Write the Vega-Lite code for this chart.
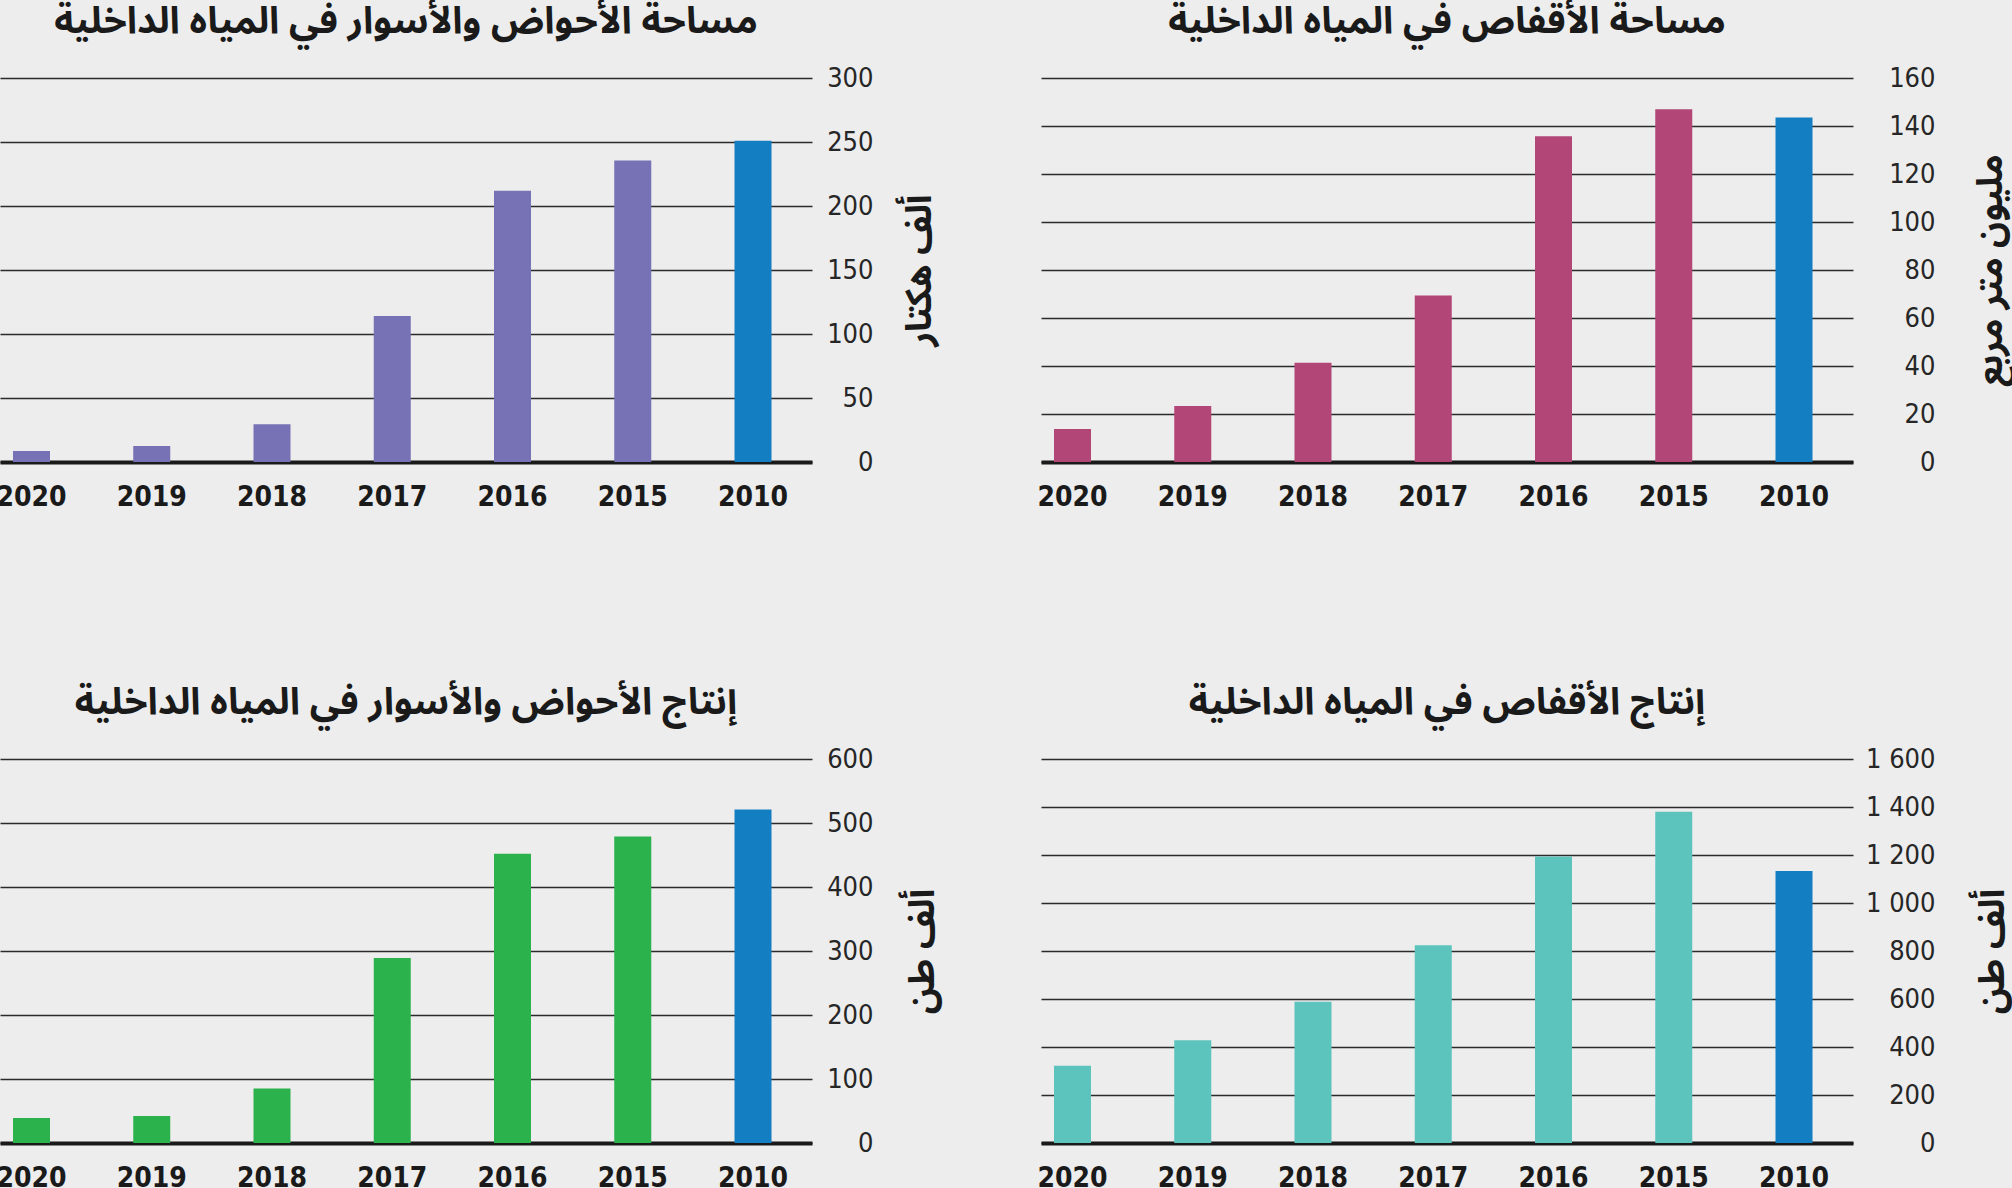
{
  "$schema": "https://vega.github.io/schema/vega-lite/v6.json",
  "autosize": {"type": "none"},
  "padding": {"left": 0, "top": 78, "right": 2012, "bottom": 1110},
  "background": "#ededed",
  "columns": 2,
  "spacing": {"column": 229, "row": 297},
  "bounds": "flush",
  "config": {
    "view": {"stroke": null},
    "title": {"font": "Noto Sans Arabic, DejaVu Sans", "fontSize": 37.5, "fontWeight": "bold", "color": "#1a1a1a", "anchor": "middle", "baseline": "alphabetic", "frame": "group", "offset": 24},
    "axisX": {"orient": "bottom", "domain": true, "domainColor": "#1a1a1a", "domainWidth": 4, "ticks": false, "grid": false, "labelPadding": 21, "labelFont": "DejaVu Sans Condensed, Roboto Condensed, Liberation Sans Narrow, Roboto", "labelFontSize": 28, "labelFontWeight": "bold", "labelColor": "#1a1a1a", "labelAngle": 0, "title": null},
    "axisY": {"orient": "right", "domain": false, "ticks": false, "grid": true, "gridColor": "#2b2b2b", "gridWidth": 1.4, "labelAlign": "right", "labelBaseline": "middle", "labelFont": "DejaVu Sans Condensed, Roboto Condensed, Liberation Sans Narrow, Roboto", "labelFontSize": 27, "labelColor": "#262626", "titleFont": "Noto Sans Arabic, DejaVu Sans", "titleFontSize": 36, "titleFontWeight": "bold", "titleColor": "#1a1a1a", "titleAngle": 270, "titleBaseline": "middle", "titleAlign": "center", "titleY": 192}
  },
  "concat": [
    {
      "title": "مساحة الأحواض والأسوار في المياه الداخلية",
      "width": 812, "height": 384,
      "data": {"values": [
        {"year": "2020", "value": 8.5}, {"year": "2019", "value": 12.5}, {"year": "2018", "value": 29.5},
        {"year": "2017", "value": 114}, {"year": "2016", "value": 212}, {"year": "2015", "value": 235.5}, {"year": "2010", "value": 251}
      ]},
      "mark": {"type": "bar"},
      "encoding": {
        "x": {"field": "year", "type": "nominal", "sort": ["2020", "2019", "2018", "2017", "2016", "2015", "2010"], "scale": {"paddingInner": 0.6923, "paddingOuter": 0.2224, "align": 0.243}},
        "y": {"field": "value", "type": "quantitative", "scale": {"domain": [0, 300], "nice": false}, "axis": {"values": [0, 50, 100, 150, 200, 250, 300], "labelPadding": 61, "titleX": 107, "title": "ألف هكتار"}},
        "color": {"condition": {"test": "datum.year === '2010'", "value": "#147ec3"}, "value": "#7771b5"}
      }
    },
    {
      "title": "مساحة الأقفاص في المياه الداخلية",
      "width": 812, "height": 384,
      "data": {"values": [
        {"year": "2020", "value": 13.7}, {"year": "2019", "value": 23.3}, {"year": "2018", "value": 41.4},
        {"year": "2017", "value": 69.4}, {"year": "2016", "value": 135.7}, {"year": "2015", "value": 147}, {"year": "2010", "value": 143.5}
      ]},
      "mark": {"type": "bar"},
      "encoding": {
        "x": {"field": "year", "type": "nominal", "sort": ["2020", "2019", "2018", "2017", "2016", "2015", "2010"], "scale": {"paddingInner": 0.6923, "paddingOuter": 0.2224, "align": 0.243}},
        "y": {"field": "value", "type": "quantitative", "scale": {"domain": [0, 160], "nice": false}, "axis": {"values": [0, 20, 40, 60, 80, 100, 120, 140, 160], "labelPadding": 82, "titleX": 137, "title": "مليون متر مربع"}},
        "color": {"condition": {"test": "datum.year === '2010'", "value": "#147ec3"}, "value": "#b24677"}
      }
    },
    {
      "title": "إنتاج الأحواض والأسوار في المياه الداخلية",
      "width": 812, "height": 384,
      "data": {"values": [
        {"year": "2020", "value": 39}, {"year": "2019", "value": 42}, {"year": "2018", "value": 85},
        {"year": "2017", "value": 289}, {"year": "2016", "value": 452}, {"year": "2015", "value": 479}, {"year": "2010", "value": 521}
      ]},
      "mark": {"type": "bar"},
      "encoding": {
        "x": {"field": "year", "type": "nominal", "sort": ["2020", "2019", "2018", "2017", "2016", "2015", "2010"], "scale": {"paddingInner": 0.6923, "paddingOuter": 0.2224, "align": 0.243}},
        "y": {"field": "value", "type": "quantitative", "scale": {"domain": [0, 600], "nice": false}, "axis": {"values": [0, 100, 200, 300, 400, 500, 600], "labelPadding": 61, "titleX": 110, "title": "ألف طن"}},
        "color": {"condition": {"test": "datum.year === '2010'", "value": "#147ec3"}, "value": "#2bb24c"}
      }
    },
    {
      "title": "إنتاج الأقفاص في المياه الداخلية",
      "width": 812, "height": 384,
      "data": {"values": [
        {"year": "2020", "value": 322}, {"year": "2019", "value": 428}, {"year": "2018", "value": 589},
        {"year": "2017", "value": 824}, {"year": "2016", "value": 1194}, {"year": "2015", "value": 1380}, {"year": "2010", "value": 1133}
      ]},
      "mark": {"type": "bar"},
      "encoding": {
        "x": {"field": "year", "type": "nominal", "sort": ["2020", "2019", "2018", "2017", "2016", "2015", "2010"], "scale": {"paddingInner": 0.6923, "paddingOuter": 0.2224, "align": 0.243}},
        "y": {"field": "value", "type": "quantitative", "scale": {"domain": [0, 1600], "nice": false}, "axis": {"values": [0, 200, 400, 600, 800, 1000, 1200, 1400, 1600], "labelExpr": "replace(format(datum.value, ','), ',', ' ')", "labelPadding": 82, "titleX": 139, "title": "ألف طن"}},
        "color": {"condition": {"test": "datum.year === '2010'", "value": "#147ec3"}, "value": "#5cc4bd"}
      }
    }
  ]
}
